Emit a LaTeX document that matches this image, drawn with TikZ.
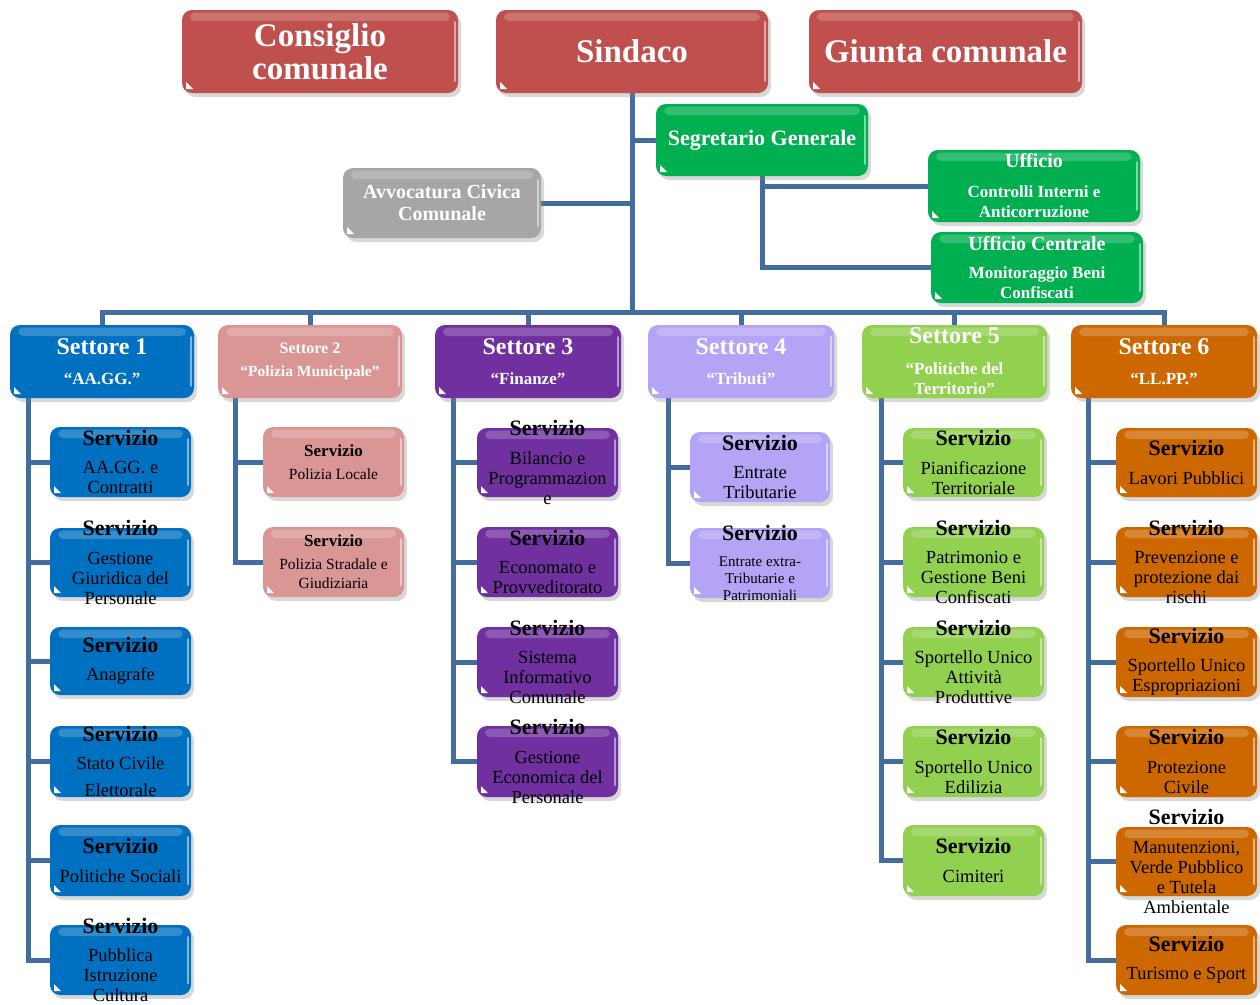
\documentclass[tikz,border=0pt]{standalone}
\usepackage{fontspec}
\setmainfont{Liberation Serif}
\usetikzlibrary{shadows,calc}
\definecolor{topred}{HTML}{C0504D}
\definecolor{grn}{HTML}{00B050}
\definecolor{gry}{HTML}{A6A6A6}
\definecolor{blu}{HTML}{0070C0}
\definecolor{pnk}{HTML}{DA9694}
\definecolor{pur}{HTML}{7030A0}
\definecolor{lav}{HTML}{B5A3F5}
\definecolor{lgr}{HTML}{92D050}
\definecolor{org}{HTML}{CD6800}
\definecolor{lin}{HTML}{436C9F}
\pgfdeclarelayer{back}
\pgfdeclarelayer{bg}
\pgfsetlayers{back,bg,main}
\newcommand\fsz[2]{\fontsize{#1}{#2}\selectfont}
\tikzset{
  gbox/.style={rectangle, rounded corners=10pt, draw=none, inner sep=0pt, outer sep=0pt,
    drop shadow={opacity=.3, shadow xshift=3pt, shadow yshift=-4pt}},
  hdr/.style={text=white},
  svc/.style={text=black, font=\fsz{18.5}{20}},
  svcs/.style={text=black, font=\fsz{15.5}{19}},
  conn/.style={draw=lin, line width=5pt},
}
% name, x1, y1, x2, y2, colour, text style, text
\newcommand\gbox[8]{%
  \node[gbox, fill=#6, minimum width={(#4-#2)*1pt}, minimum height={(#5-#3)*1pt}] (#1) at ({(#2+#4)/2},{(#3+#5)/2}) {};
  \fill[white, opacity=.2, rounded corners=5pt] ([xshift=8pt,yshift=-2.5pt]#1.north west) rectangle ([xshift=-8pt,yshift=-11pt]#1.north east);
  \draw[white, opacity=.5, line width=2pt, line cap=round] ([xshift=-3pt,yshift=-12pt]#1.north east) -- ([xshift=-3pt,yshift=12pt]#1.south east);
  \fill[white] ([xshift=4pt,yshift=4pt]#1.south west) -- ++(7pt,0pt) -- ++(-7pt,7pt) -- cycle;
  \node[#7, align=center, inner sep=0pt] (#1-t) at (#1.center) {#8};
}
\newcommand\srv{{\bfseries\fsz{22}{20}Servizio}\\[8.5pt]}
\newcommand\srvs{{\bfseries\fsz{17}{19}Servizio}\\[4pt]}
\begin{document}
\begin{tikzpicture}[x=1pt,y=-1pt]
\useasboundingbox (0,0) rectangle (1260,1004);
\begin{pgfonlayer}{back}
\fill[white] (0,0) rectangle (1260,1004);
\end{pgfonlayer}
% top
\gbox{cons}{182}{10}{458}{93}{topred}{hdr,font=\bfseries\fsz{33}{33}}{Consiglio\\comunale}
\gbox{sind}{496}{10}{768}{93}{topred}{hdr,font=\bfseries\fsz{33}{33}}{Sindaco}
\gbox{giunta}{809}{10}{1082}{93}{topred}{hdr,font=\bfseries\fsz{33}{33}}{Giunta comunale}
\gbox{seg}{656}{104}{868}{176}{grn}{hdr,font=\bfseries\fsz{22}{22}}{Segretario Generale}
\gbox{avv}{343}{168}{541}{238}{gry}{hdr,font=\bfseries\fsz{20}{22}}{Avvocatura Civica\\Comunale}
\gbox{uci}{928}{150}{1140}{222}{grn}{hdr,font=\bfseries\fsz{17}{20}}{{\fsz{20}{20}Ufficio}\\[10pt]Controlli Interni e\\Anticorruzione}
\gbox{ucm}{931}{232}{1143}{303}{grn}{hdr,font=\bfseries\fsz{17}{20}}{{\fsz{20}{20}Ufficio Centrale}\\[8pt]Monitoraggio Beni\\Confiscati}
% settori
\gbox{s1}{10}{325}{194}{398}{blu}{hdr,font=\bfseries\fsz{17}{20}}{{\fsz{24}{20}Settore 1}\\[10pt]“AA.GG.”}
\gbox{s2}{218}{325}{402}{398}{pnk}{hdr,font=\bfseries\fsz{15.5}{19}}{{\fsz{16}{19}Settore 2}\\[4pt]“Polizia Municipale”}
\gbox{s3}{435}{325}{621}{398}{pur}{hdr,font=\bfseries\fsz{17}{20}}{{\fsz{24}{20}Settore 3}\\[10pt]“Finanze”}
\gbox{s4}{648}{325}{834}{398}{lav}{hdr,font=\bfseries\fsz{17}{20}}{{\fsz{24}{20}Settore 4}\\[10pt]“Tributi”}
\gbox{s5}{862}{325}{1047}{398}{lgr}{hdr,font=\bfseries\fsz{17}{20}}{{\fsz{24}{20}Settore 5}\\[11pt]“Politiche del\\Territorio”}
\gbox{s6}{1071}{325}{1257}{398}{org}{hdr,font=\bfseries\fsz{17}{20}}{{\fsz{24}{20}Settore 6}\\[10pt]“LL.PP.”}
% settore 1
\gbox{s1a}{50}{427}{191}{497}{blu}{svc}{\srv AA.GG. e\\Contratti}
\gbox{s1b}{50}{528}{191}{597}{blu}{svc}{\srv Gestione\\Giuridica del\\Personale}
\gbox{s1c}{50}{627}{191}{695}{blu}{svc}{\srv Anagrafe}
\gbox{s1d}{50}{726}{191}{797}{blu}{svc}{\srv Stato Civile\\[7pt]Elettorale}
\gbox{s1e}{50}{825}{191}{896}{blu}{svc}{\srv Politiche Sociali}
\gbox{s1f}{50}{925}{191}{995}{blu}{svc}{\srv Pubblica\\Istruzione\\Cultura}
% settore 2
\gbox{s2a}{263}{427}{404}{497}{pnk}{svcs}{\srvs Polizia Locale}
\gbox{s2b}{263}{527}{404}{597}{pnk}{svcs}{\srvs Polizia Stradale e\\Giudiziaria}
% settore 3
\gbox{s3a}{477}{428}{618}{497}{pur}{svc}{\srv Bilancio e\\Programmazion\\e}
\gbox{s3b}{477}{527}{618}{597}{pur}{svc}{\srv Economato e\\Provveditorato}
\gbox{s3c}{477}{627}{618}{697}{pur}{svc}{\srv Sistema\\Informativo\\Comunale}
\gbox{s3d}{477}{726}{618}{797}{pur}{svc}{\srv Gestione\\Economica del\\Personale}
% settore 4
\gbox{s4a}{690}{432}{830}{502}{lav}{svc}{\srv Entrate\\Tributarie}
\gbox{s4b}{690}{528}{830}{598}{lav}{text=black,font=\fsz{15}{17}}{{\bfseries\fsz{22}{17}Servizio}\\[9pt]Entrate extra-\\Tributarie e\\Patrimoniali}
% settore 5
\gbox{s5a}{903}{428}{1044}{497}{lgr}{svc}{\srv Pianificazione\\Territoriale}
\gbox{s5b}{903}{527}{1044}{597}{lgr}{svc}{\srv Patrimonio e\\Gestione Beni\\Confiscati}
\gbox{s5c}{903}{627}{1044}{697}{lgr}{svc}{\srv Sportello Unico\\Attività\\Produttive}
\gbox{s5d}{903}{726}{1044}{797}{lgr}{svc}{\srv Sportello Unico\\Edilizia}
\gbox{s5e}{903}{825}{1044}{896}{lgr}{svc}{\srv Cimiteri}
% settore 6
\gbox{s6a}{1116}{428}{1257}{497}{org}{svc}{\srv Lavori Pubblici}
\gbox{s6b}{1116}{527}{1257}{597}{org}{svc}{\srv Prevenzione e\\protezione dai\\rischi}
\gbox{s6c}{1116}{627}{1257}{697}{org}{svc}{\srv Sportello Unico\\Espropriazioni}
\gbox{s6d}{1116}{726}{1257}{797}{org}{svc}{\srv Protezione\\Civile}
\gbox{s6e}{1116}{827}{1257}{896}{org}{svc}{\srv Manutenzioni,\\Verde Pubblico\\e Tutela\\Ambientale}
\gbox{s6f}{1116}{925}{1257}{995}{org}{svc}{\srv Turismo e Sport}
% connectors
\begin{pgfonlayer}{bg}
\coordinate (j) at (632,312);
\draw[conn] (sind.south) -- (j);
\foreach \s in {s1,s2,s3,s4,s5,s6} \draw[conn] (\s.north) |- (j);
\draw[conn] (seg.west) -- (seg.west -| j);
\draw[conn] (avv.east) -- (avv.east -| j);
\draw[conn] (seg.south) |- (uci.west);
\draw[conn] (seg.south) |- (ucm.west);
\coordinate (v1) at ([xshift=18pt]s1.south west);
\coordinate (v2) at ([xshift=17pt]s2.south west);
\coordinate (v3) at ([xshift=18pt]s3.south west);
\coordinate (v4) at ([xshift=20pt]s4.south west);
\coordinate (v5) at ([xshift=19pt]s5.south west);
\coordinate (v6) at ([xshift=17pt]s6.south west);
\foreach \b in {a,b,c,d,e,f} \draw[conn] (v1) |- (s1\b.west);
\foreach \b in {a,b} \draw[conn] (v2) |- (s2\b.west);
\foreach \b in {a,b,c,d} \draw[conn] (v3) |- (s3\b.west);
\foreach \b in {a,b} \draw[conn] (v4) |- (s4\b.west);
\foreach \b in {a,b,c,d,e} \draw[conn] (v5) |- (s5\b.west);
\foreach \b in {a,b,c,d,e,f} \draw[conn] (v6) |- (s6\b.west);
\end{pgfonlayer}
\end{tikzpicture}
\end{document}
